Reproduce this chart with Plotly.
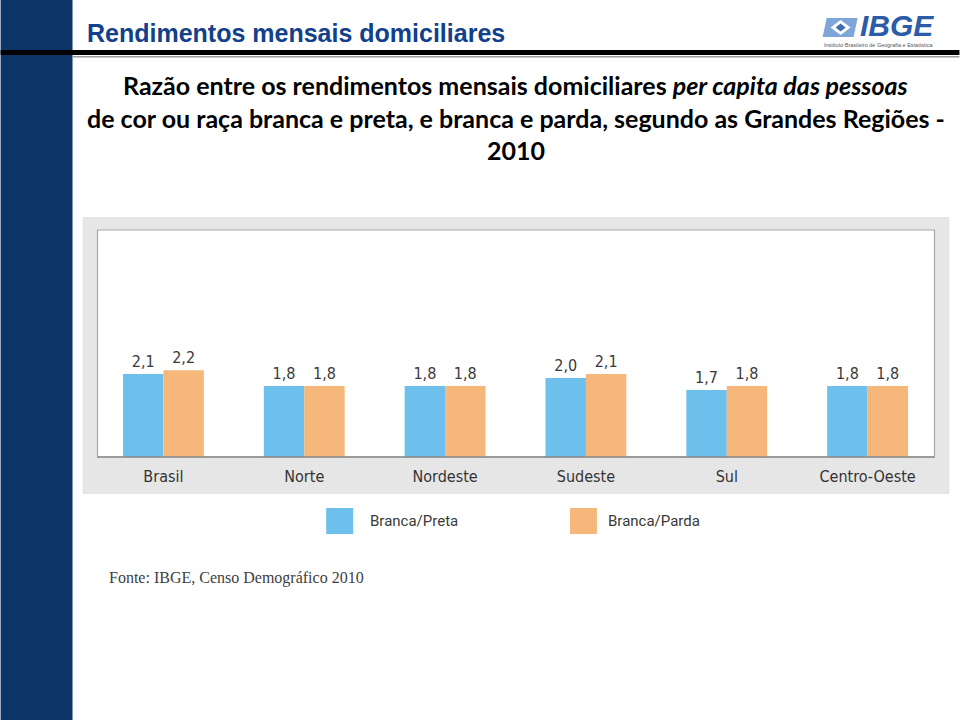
import plotly.graph_objects as go

# ---------------- data ----------------
regions = ["Brasil", "Norte", "Nordeste", "Sudeste", "Sul", "Centro-Oeste"]
branca_preta = [2.1, 1.8, 1.8, 2.0, 1.7, 1.8]
branca_parda = [2.2, 1.8, 1.8, 2.1, 1.8, 1.8]
series_names = ["Branca/Preta", "Branca/Parda"]
series_colors = ["#6CC0EB", "#F5B77A"]

header_title = "Rendimentos mensais domiciliares"
subtitle_lines = [
    "Razão entre os rendimentos mensais domiciliares <i>per capita das pessoas</i>",
    "de cor ou raça branca e preta, e branca e parda, segundo as Grandes Regiões -",
    "2010",
]
source_text = "Fonte: IBGE, Censo Demográfico 2010"

# ---------------- layout geometry (pixels) ----------------
W, H = 960, 720
PL, PR, PT, PB = 92.5, 938.5, 230, 457  # bar domain (plot area)
WL, WR = 97, 935                        # white panel


def px(x):
    return (x - PL) / (PR - PL)


def py(y):
    return (PB - y) / (PB - PT)


COND = "Liberation Sans Narrow, DejaVu Sans Condensed, Arial Narrow, sans-serif"

fig = go.Figure()
for name, vals, col in zip(series_names, [branca_preta, branca_parda], series_colors):
    fig.add_trace(go.Bar(
        x=regions, y=vals, name=name,
        marker=dict(color=col, line=dict(width=0)),
        texttemplate="%{y:.1f}", textposition="outside",
        textfont=dict(family=COND, size=16, color="#3A3A3A"),
        cliponaxis=False, showlegend=False,
    ))

shapes = [
    # left dark band
    dict(type="rect", xref="paper", yref="paper", x0=px(0), x1=px(72), y0=py(0), y1=py(720),
         fillcolor="#0D3466", line=dict(width=0), layer="below"),
    # header black rule
    dict(type="rect", xref="paper", yref="paper", x0=px(0), x1=px(960), y0=py(50), y1=py(55),
         fillcolor="#000000", line=dict(width=0), layer="below"),
    dict(type="rect", xref="paper", yref="paper", x0=px(72), x1=px(960), y0=py(56), y1=py(57.5),
         fillcolor="#9A9A9A", line=dict(width=0), layer="below"),
    # chart gray frame
    dict(type="rect", xref="paper", yref="paper", x0=px(82), x1=px(950), y0=py(217), y1=py(494),
         fillcolor="#E6E6E6", line=dict(width=0), layer="below"),
    # white plot panel
    dict(type="rect", xref="paper", yref="paper", x0=px(WL), x1=px(WR), y0=py(PB), y1=py(PT),
         fillcolor="#FFFFFF", line=dict(width=1.2, color="#A8A8A8"), layer="below"),
    # baseline
    dict(type="line", xref="paper", yref="paper", x0=px(WL), x1=px(WR), y0=0, y1=0,
         line=dict(width=1.5, color="#8A8A8A"), layer="above"),
    # logo icon
    dict(type="path", xref="paper", yref="paper",
         path=f"M {px(823)},{py(37)} L {px(827)},{py(18)} L {px(858)},{py(18)} L {px(854)},{py(37)} Z",
         fillcolor="#7FA6D8", line=dict(width=0), layer="above"),
    dict(type="path", xref="paper", yref="paper",
         path=f"M {px(841)},{py(20)} L {px(851)},{py(27.5)} L {px(841)},{py(35)} L {px(831)},{py(27.5)} Z",
         fillcolor="#FFFFFF", line=dict(width=0), layer="above"),
    dict(type="path", xref="paper", yref="paper",
         path=f"M {px(841)},{py(23.5)} L {px(846)},{py(27.5)} L {px(841)},{py(31.5)} L {px(836)},{py(27.5)} Z",
         fillcolor="#3E6DB5", line=dict(width=0), layer="above"),
]

annotations = [
    dict(text=f"<b>{header_title}</b>", x=px(84), y=py(33), xref="paper", yref="paper",
         xanchor="left", yanchor="middle", showarrow=False,
         font=dict(family="Liberation Sans, Arial, sans-serif", size=25, color="#12408A")),
    dict(text="<b><i>IBGE</i></b>", x=px(858), y=py(26), xref="paper", yref="paper",
         xanchor="left", yanchor="middle", showarrow=False,
         font=dict(family="Liberation Sans, Arial, sans-serif", size=30, color="#2C5CA8")),
    dict(text="Instituto Brasileiro de Geografia e Estatística", x=px(879), y=py(45), xref="paper",
         yref="paper", xanchor="center", yanchor="middle", showarrow=False,
         font=dict(family="Liberation Sans, Arial, sans-serif", size=5.5, color="#555555")),
    dict(text=source_text, x=px(107), y=py(578), xref="paper", yref="paper",
         xanchor="left", yanchor="middle", showarrow=False,
         font=dict(family="Liberation Serif, Times New Roman, serif", size=16, color="#404040")),
]
for i, line in enumerate(subtitle_lines):
    annotations.append(dict(
        text=f"<b>{line}</b>", x=px(516), y=py(85 + 32.5 * i), xref="paper", yref="paper",
        xanchor="center", yanchor="middle", showarrow=False,
        font=dict(family="Lato, Noto Sans, sans-serif", size=25, color="#000000")))

# manual legend
leg = [(326, 368), (570, 606)]
for (sx, tx), name, col in zip(leg, series_names, series_colors):
    shapes.append(dict(type="rect", xref="paper", yref="paper", x0=px(sx), x1=px(sx + 27),
                       y0=py(534), y1=py(508), fillcolor=col, line=dict(width=0)))
    annotations.append(dict(text=name, x=px(tx), y=py(521), xref="paper", yref="paper",
                            xanchor="left", yanchor="middle", showarrow=False,
                            font=dict(family="Roboto, Liberation Sans, sans-serif", size=15,
                                      color="#3A3A3A")))

fig.update_layout(
    width=W, height=H,
    margin=dict(l=PL, r=W - PR, t=PT, b=H - PB, pad=0),
    paper_bgcolor="#FFFFFF", plot_bgcolor="rgba(0,0,0,0)",
    barmode="group", bargap=0.426, bargroupgap=0,
    separators=",.",
    shapes=shapes, annotations=annotations,
    xaxis=dict(showline=False, ticks="",
               tickfont=dict(family=COND, size=16, color="#333333"), ticklabelstandoff=8,
               showgrid=False, zeroline=False),
    yaxis=dict(range=[0, 5.75], visible=False, showgrid=False, zeroline=False),
    showlegend=False,
)

fig.write_html("out.html", config={"displayModeBar": False},
               post_script="document.body.style.margin='0px';")
